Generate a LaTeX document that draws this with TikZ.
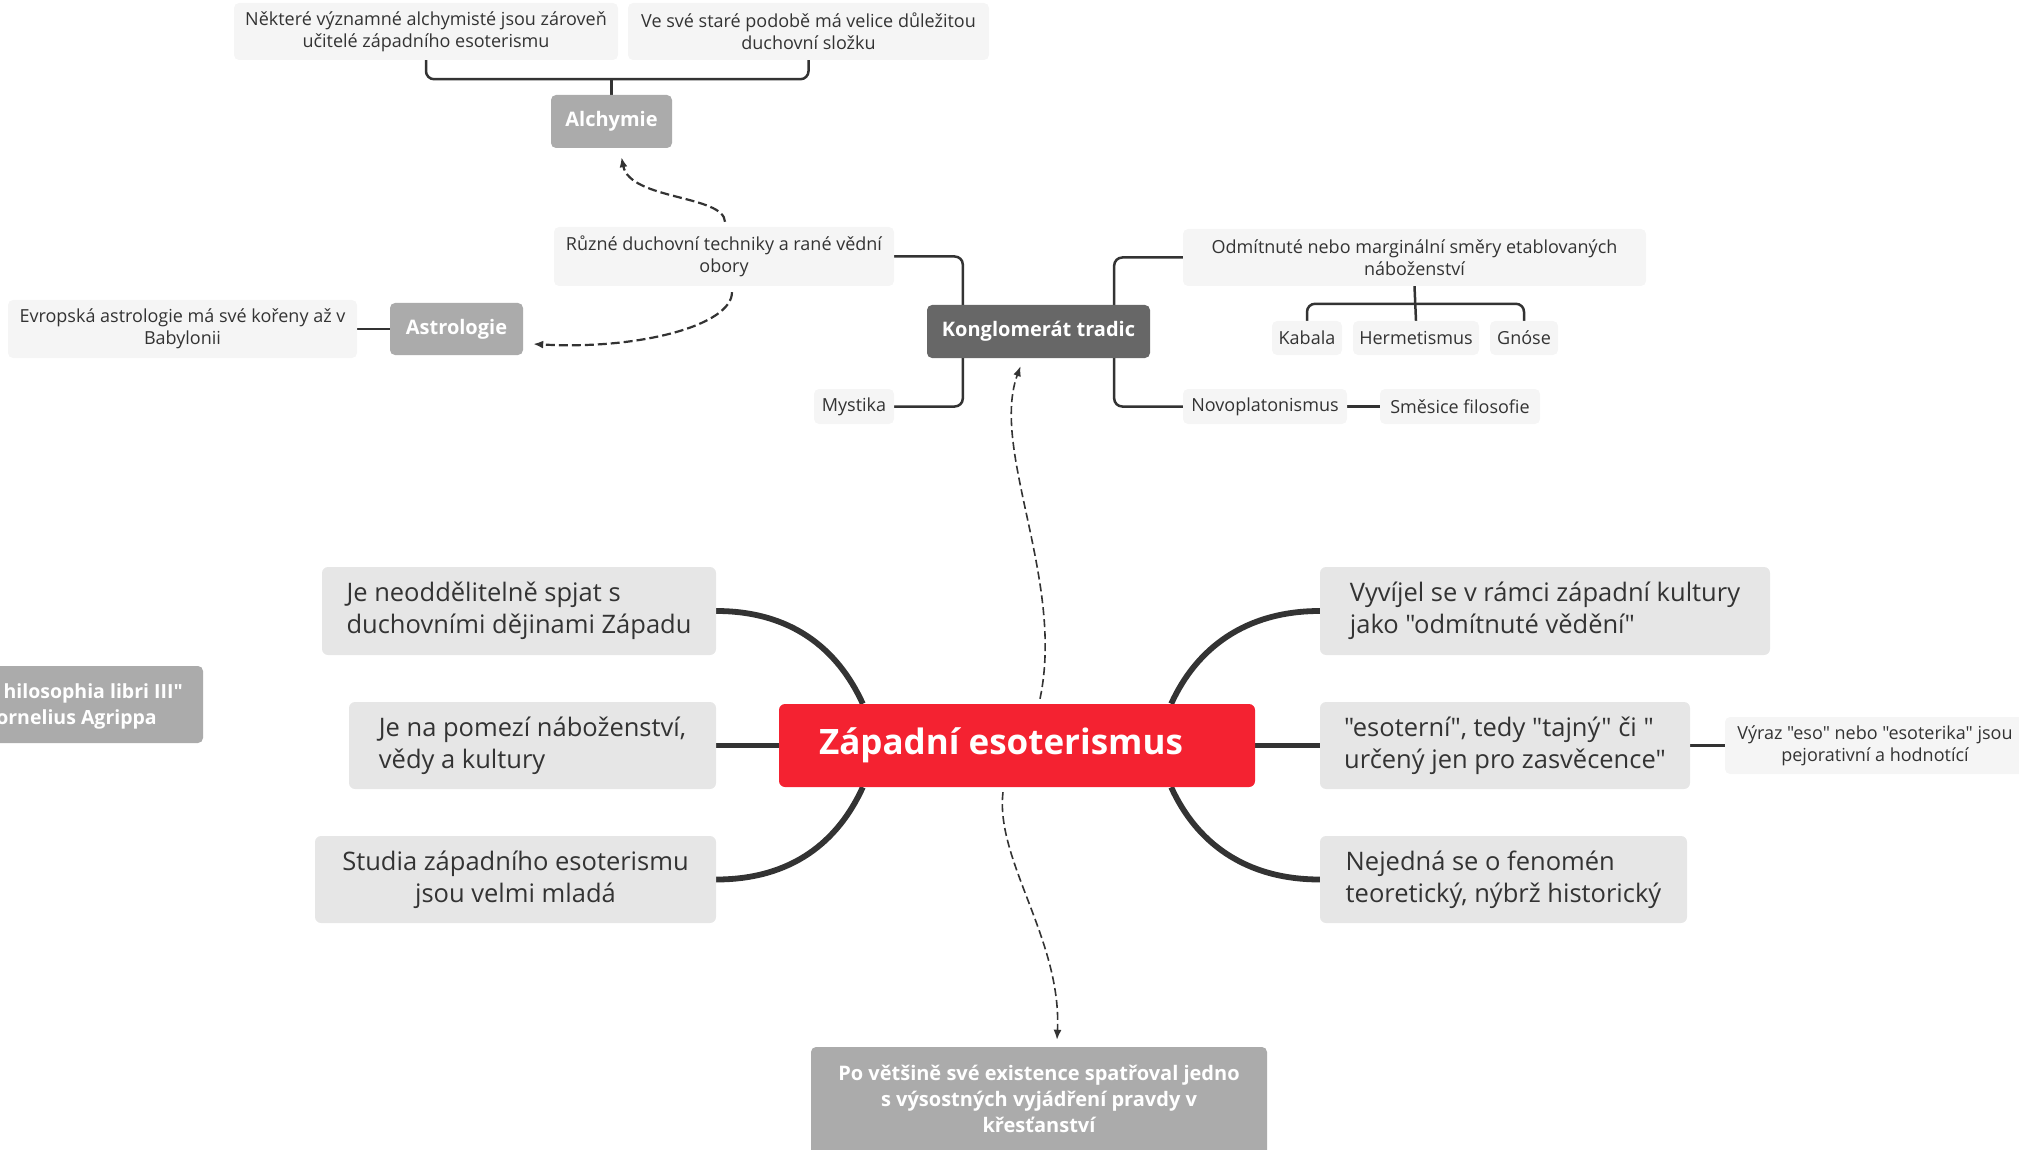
\documentclass[tikz,border=0pt]{standalone}
\usepackage{fontspec}
\newfontfamily\osans{Open Sans}
\usetikzlibrary{calc,arrows.meta,backgrounds}
\definecolor{leafbg}{HTML}{F5F5F5}
\definecolor{branchbg}{HTML}{E6E6E6}
\definecolor{graybg}{HTML}{ABABAB}
\definecolor{darkbg}{HTML}{676767}
\definecolor{mainred}{RGB}{244,34,49}
\definecolor{txt}{HTML}{333333}
\definecolor{lnc}{HTML}{333333}
\newcommand\myfs[2]{\osans\fontsize{#1}{#2}\selectfont}
\tikzset{
  leaf/.style={fill=leafbg, rounded corners=5pt, text=txt, font=\myfs{18}{22}, align=center, inner sep=0pt},
  branch/.style={fill=branchbg, rounded corners=6pt, text=txt, font=\myfs{25.5}{32}, align=left, inner sep=0pt},
  gbox/.style={fill=graybg, rounded corners=5pt, text=white, font=\myfs{20}{24}\bfseries, align=center, inner sep=0pt},
  kbox/.style={fill=darkbg, rounded corners=5pt, text=white, font=\myfs{20}{24}\bfseries, align=center, inner sep=0pt},
  mainbox/.style={fill=mainred, rounded corners=6pt, text=white, font=\myfs{35}{40}\bfseries, text width=396pt, align=flush left, inner xsep=40pt, inner ysep=0pt, minimum height=83pt},
  conn/.style={draw=lnc, line width=2.5pt},
  trunk/.style={draw=lnc, line width=5.8pt},
  dasharrow/.style={draw=lnc, line width=2.2pt, dash pattern=on 9pt off 4pt, -{Latex[length=10pt,width=8pt]}}
}
\begin{document}
\begin{tikzpicture}[x=1pt,y=-1pt]
\clip (0,0) rectangle (2019,1150);
\useasboundingbox (0,0) rectangle (2019,1150);

% top-left cluster
\node[leaf, minimum width=384, minimum height=57] (a1) at (426,31.5) {Některé významné alchymisté jsou zároveň\\učitelé západního esoterismu};
\node[leaf, minimum width=361, minimum height=57] (a2) at (808.5,31.5) {Ve své staré podobě má velice důležitou\\duchovní složku};
\node[gbox, minimum width=121, minimum height=53] (alch) at (611.5,121.5) {Alchymie};
\node[leaf, minimum width=340, minimum height=59] (rz) at (724,256.5) {Různé duchovní techniky a rané vědní\\obory};
\node[gbox, minimum width=133, minimum height=52] (astr) at (456.5,329) {Astrologie};
\node[leaf, minimum width=349, minimum height=58] (evr) at (182.5,329) {Evropská astrologie má své kořeny až v\\Babylonii};
\node[kbox, minimum width=223, minimum height=53] (kong) at (1038.5,331.5) {Konglomerát tradic};
\node[leaf, minimum width=80, minimum height=35] (myst) at (854,406.5) {Mystika};
\node[leaf, minimum width=463, minimum height=57] (odm) at (1414.5,257.5) {Odmítnuté nebo marginální směry etablovaných\\náboženství};
\node[leaf, minimum width=70, minimum height=34] (kab) at (1307,338) {Kabala};
\node[leaf, minimum width=126, minimum height=34] (herm) at (1416,338) {Hermetismus};
\node[leaf, minimum width=68, minimum height=34] (gno) at (1524,338) {Gnóse};
\node[leaf, minimum width=164, minimum height=35] (novo) at (1265,406.5) {Novoplatonismus};
\node[leaf, minimum width=160, minimum height=35] (smes) at (1460,406.5) {Směsice filosofie};

% central
\node[mainbox] (main) at (1017,745.5) {Západní esoterismus};
\node[branch, minimum width=394, minimum height=88] (l1) at (519,611) {Je neoddělitelně spjat s\\duchovními dějinami Západu};
\node[branch, minimum width=367, minimum height=87] (l2) at (532.5,745.5) {Je na pomezí náboženství,\\vědy a kultury};
\node[branch, align=center, minimum width=401, minimum height=87] (l3) at (515.5,879.5) {Studia západního esoterismu\\jsou velmi mladá};
\node[branch, minimum width=450, minimum height=88] (r1) at (1545,611) {Vyvíjel se v rámci západní kultury\\jako "odmítnuté vědění"};
\node[branch, minimum width=370, minimum height=87] (r2) at (1505,745.5) {"esoterní", tedy "tajný" či "\\určený jen pro zasvěcence"};
\node[branch, minimum width=367, minimum height=87] (r3) at (1503.5,879.5) {Nejedná se o fenomén\\teoretický, nýbrž historický};
\node[leaf, font=\myfs{18}{22}, minimum width=300, minimum height=57] (r4) at (1875,745.5) {Výraz "eso" nebo "esoterika" jsou\\pejorativní a hodnotící};

\node[gbox, font=\myfs{20}{26}\bfseries, minimum width=456, minimum height=130] (bot) at (1039,1112) {\raisebox{11pt}[\height][\depth]{\begin{tabular}{@{}c@{}}Po většině své existence spatřoval jedno\\s výsostných vyjádření pravdy v\\křesťanství\end{tabular}}};

\node[gbox, minimum width=223, minimum height=77] (agr) at (91.5,704.5) {};
\node[text=white, font=\myfs{19.5}{24}\bfseries, anchor=east, inner sep=0pt] (agr1) at (183,693) {hilosophia libri III"};
\node[text=white, font=\myfs{19.5}{24}\bfseries, anchor=east, inner sep=0pt] (agr2) at (157,719) {ornelius Agrippa};

\begin{pgfonlayer}{background}
\draw[conn, rounded corners=8pt] (a1.south) -- ++(0,19) -| (a2.south);
\draw[conn] (alch.north) -- ++(0,-16);
\draw[conn, rounded corners=8pt] (rz.east) -| ($(kong.north west)+(36,0)$);
\draw[conn, rounded corners=8pt] (myst.east) -| ($(kong.south west)+(36,0)$);
\draw[conn, rounded corners=8pt] (odm.west) -| ($(kong.north east)+(-36,0)$);
\draw[conn, rounded corners=8pt] (novo.west) -| ($(kong.south east)+(-36,0)$);
\draw[conn] (evr.east) -- (astr.west);
\draw[conn] (odm.south) -- (herm.north);
\draw[conn, rounded corners=8pt] (kab.north) -- ++(0,-17) -| (gno.north);
\draw[conn] (novo.east) -- (smes.west);

\draw[trunk] (l1.east) .. controls +(75,0) and +(-25,-55) .. ($(main.north west)+(84,0)$);
\draw[trunk] (l3.east) .. controls +(75,0) and +(-25,55) .. ($(main.south west)+(84,0)$);
\draw[trunk] (r1.west) .. controls +(-75,0) and +(25,-55) .. ($(main.north east)+(-84,0)$);
\draw[trunk] (r3.west) .. controls +(-75,0) and +(25,55) .. ($(main.south east)+(-84,0)$);
\draw[trunk] (l2.east) -- (main.west);
\draw[trunk] (main.east) -- (r2.west);
\draw[conn, line width=3.5pt] (r2.east) -- (r4.west);
\end{pgfonlayer}

\draw[dasharrow] ($(rz.north)+(1,-5)$) .. controls (724,195) and (630,200) .. ($(alch.south)+(10,9)$);
\draw[dasharrow] ($(rz.south)+(8,6)$) .. controls (732,325) and (640,350) .. ($(astr.east)+(10,15)$);
\draw[dasharrow, line width=1.6pt, dash pattern=on 8pt off 4pt] ($(main.north)+(23,-5)$) .. controls (1065,580) and (990,450) .. ($(kong.south)+(-18,8)$);
\draw[dasharrow, line width=1.6pt, dash pattern=on 8pt off 4pt] ($(main.south)+(-14,5)$) .. controls (995,860) and (1062,940) .. ($(bot.north)+(18,-7)$);
\end{tikzpicture}
\end{document}
